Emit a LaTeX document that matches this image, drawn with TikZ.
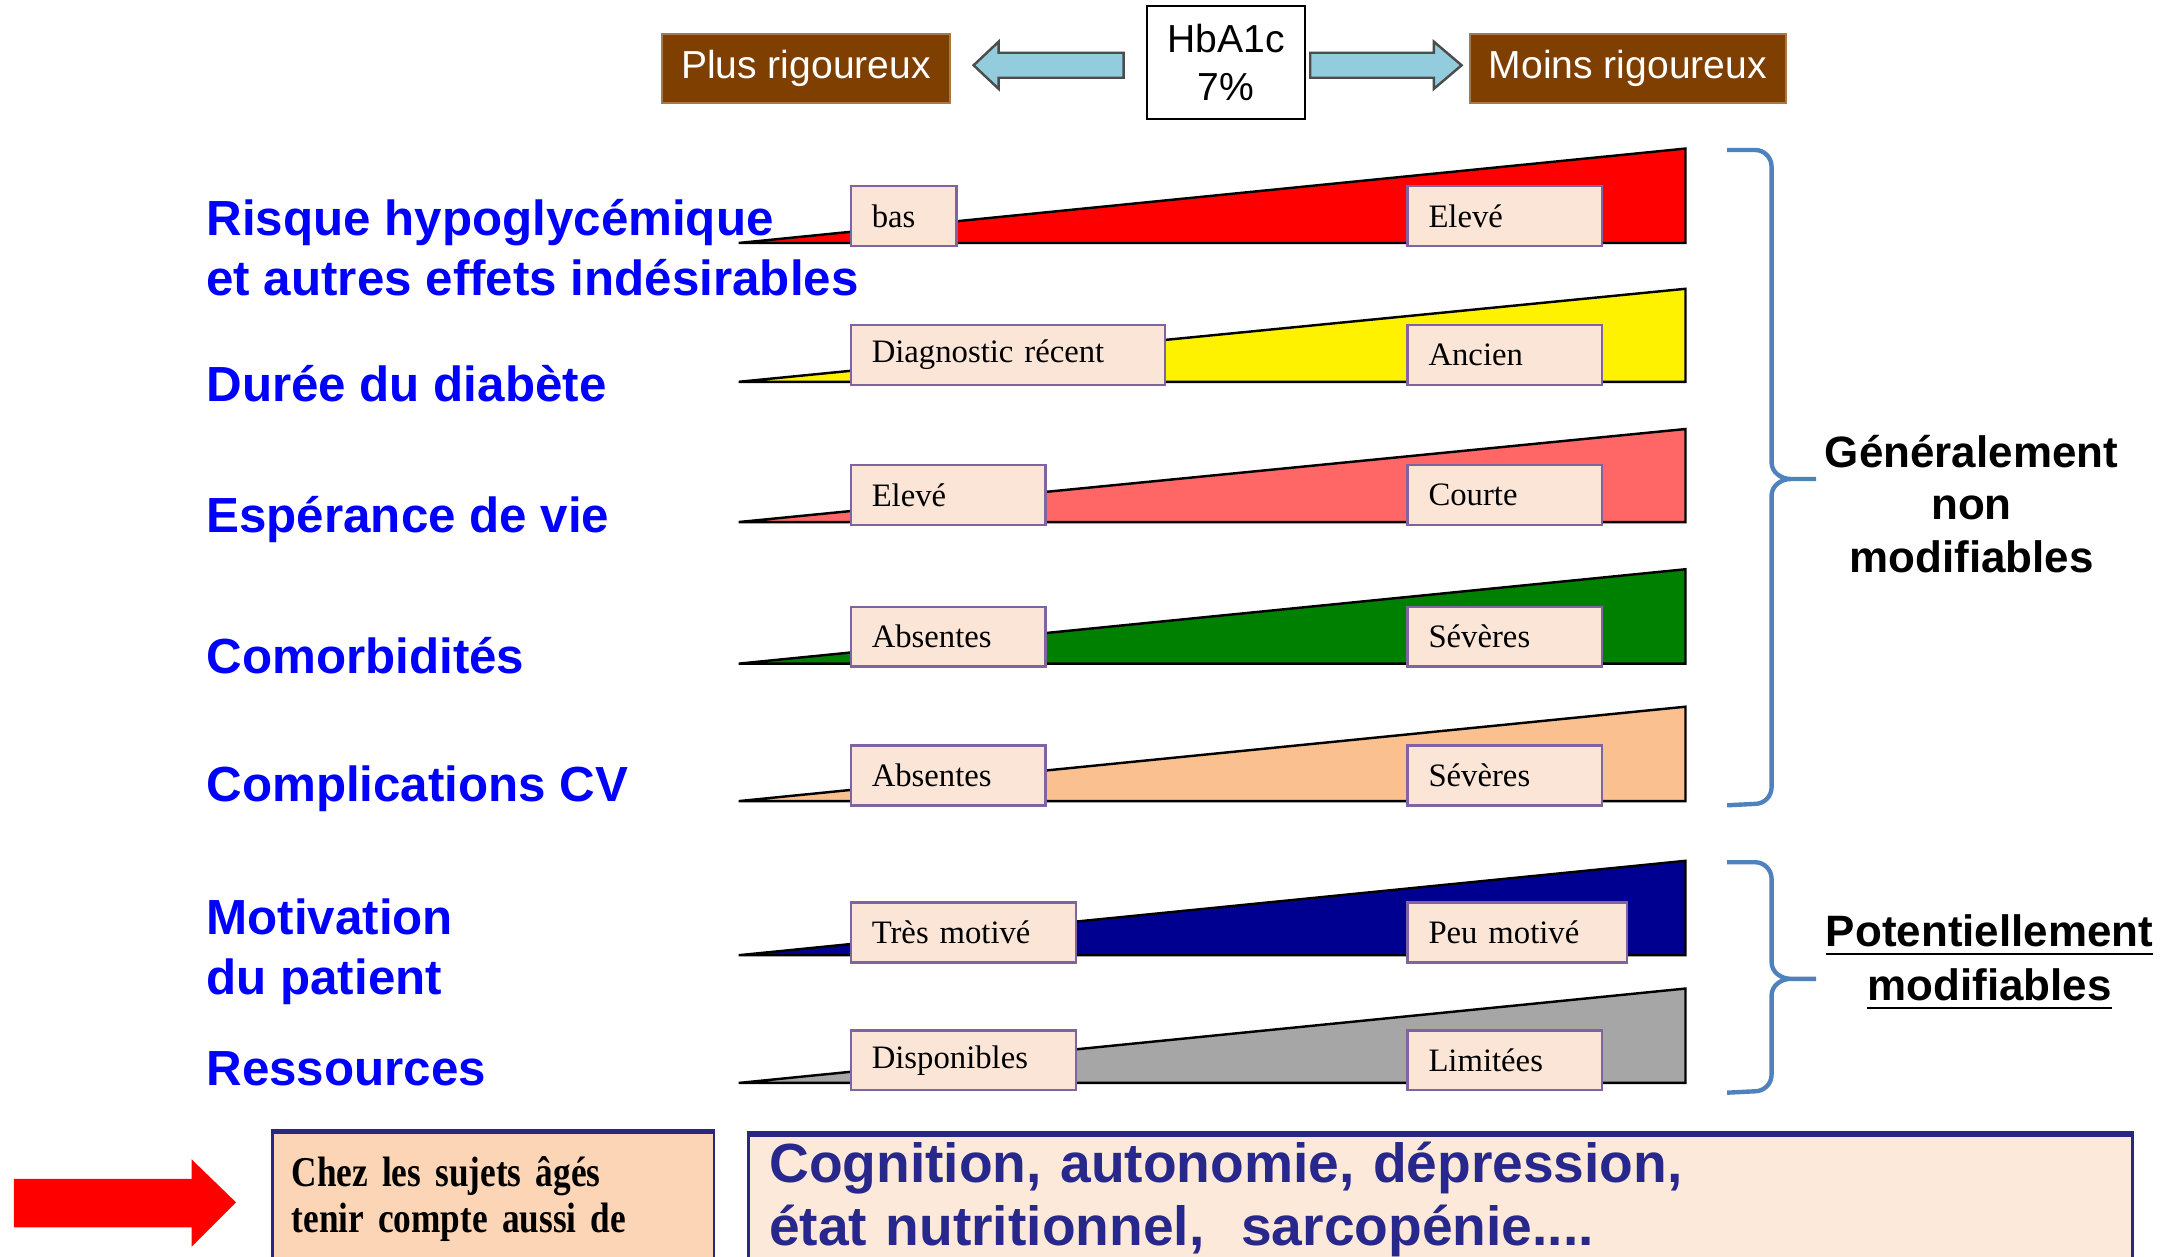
\documentclass[tikz,border=0pt]{standalone}
\usepackage{fontspec}
\setmainfont{Liberation Sans}
\newfontfamily\timesf{Liberation Serif}
\newfontfamily\timescond{Liberation Serif}[FakeStretch=0.83]
\usetikzlibrary{calc}
\definecolor{brun}{RGB}{127,63,0}
\definecolor{flecheblue}{RGB}{147,205,221}
\definecolor{tagfill}{RGB}{251,229,214}
\definecolor{tagline}{RGB}{128,100,162}
\definecolor{labblue}{RGB}{0,0,255}
\definecolor{braceblue}{RGB}{79,129,189}
\definecolor{rougeclair}{RGB}{255,102,102}
\definecolor{vert}{RGB}{0,128,0}
\definecolor{peche}{RGB}{250,192,144}
\definecolor{marine}{RGB}{0,0,144}
\definecolor{gris}{RGB}{166,166,166}
\definecolor{chezfill}{RGB}{251,213,181}
\definecolor{cogfill}{RGB}{252,233,218}
\definecolor{cogtext}{RGB}{40,40,140}
\definecolor{navyline}{RGB}{40,40,130}
\tikzset{
    topbox/.style={fill=brun, draw=brun!70, text=white, minimum height=0.45cm,
        font=\fontsize{8}{9.6}\selectfont},
    barrow/.style={fill=flecheblue, draw=black!70, line width=0.5pt},
    wedge/.style={draw=black, line width=0.5pt},
    tag/.style={draw=tagline, fill=tagfill, line width=0.5pt, anchor=south west,
        minimum height=0.43cm, inner xsep=0.15cm, inner ysep=0pt, text width=#1,
        align=left, font=\timesf\fontsize{6.7}{8}\selectfont},
    rowlab/.style={font=\bfseries\fontsize{10.1}{12.2}\selectfont, text=labblue,
        anchor=west, inner sep=0pt, align=left},
    brace/.style={draw=braceblue, line width=0.9pt},
}

\begin{document}
\begin{tikzpicture}[x=0.01cm,y=-0.01cm]
\useasboundingbox (0,0) rectangle (1568,905);
\clip (0,0) rectangle (1568,905);

% en-tete
\node[topbox, minimum width=2.07cm] (plus) at (580.5,49.5) {Plus rigoureux};
\node[draw=black, fill=white, minimum width=1.14cm, minimum height=0.82cm, align=center,
    font=\fontsize{8}{9.7}\selectfont] (hba) at (883,45) {HbA1c\\7\%};
\node[topbox, minimum width=2.27cm] (moins) at (1172.5,49.5) {Moins rigoureux};
\draw[barrow] (hba.west) ++(-16,-7) -- ++(-90,0) -- ++(0,-8) -- ++(-18,17) -- ++(18,17)
    -- ++(0,-8) -- ++(90,0) -- cycle;
\draw[barrow] (hba.east) ++(3,-7) -- ++(89,0) -- ++(0,-8) -- ++(20,17) -- ++(-20,17)
    -- ++(0,-8) -- ++(-89,0) -- cycle;

% triangles
\filldraw[wedge, fill=red] (532,175) -- (1214,107) -- (1214,175) -- cycle;
\filldraw[wedge, fill=yellow] (532,275) -- (1214,208) -- (1214,275) -- cycle;
\filldraw[wedge, fill=rougeclair] (532,376) -- (1214,309) -- (1214,376) -- cycle;
\filldraw[wedge, fill=vert] (532,478) -- (1214,410) -- (1214,478) -- cycle;
\filldraw[wedge, fill=peche] (532,577) -- (1214,509) -- (1214,577) -- cycle;
\filldraw[wedge, fill=marine] (532,688) -- (1214,620) -- (1214,688) -- cycle;
\filldraw[wedge, fill=gris] (532,780) -- (1214,712) -- (1214,780) -- cycle;

% etiquettes
\node[tag=0.46cm] (bas) at (612,178) {bas};
\node[tag=1.10cm] (eleve1) at (1013,178) {Elevé};
\node[tag=1.96cm] (diag) at (612,278) {Diagnostic récent};
\node[tag=1.10cm] (ancien) at (1013,278) {Ancien};
\node[tag=1.10cm] (eleve2) at (612,379) {Elevé};
\node[tag=1.10cm] (courte) at (1013,379) {Courte};
\node[tag=1.10cm] (abs1) at (612,481) {Absentes};
\node[tag=1.10cm] (sev1) at (1013,481) {Sévères};
\node[tag=1.10cm] (abs2) at (612,581) {Absentes};
\node[tag=1.10cm] (sev2) at (1013,581) {Sévères};
\node[tag=1.32cm] (tres) at (612,694) {Très motivé};
\node[tag=1.28cm] (peu) at (1013,694) {Peu motivé};
\node[tag=1.32cm] (dispo) at (612,786) {Disponibles};
\node[tag=1.10cm] (limit) at (1013,786) {Limitées};

% criteres
\node[rowlab] (risque) at (148,178.5) {Risque hypoglycémique\\et autres effets indésirables};
\node[rowlab] (duree) at (148,276) {Durée du diabète};
\node[rowlab] (esper) at (148,374) {Espérance de vie};
\node[rowlab] (comorb) at (148,472) {Comorbidités};
\node[rowlab] (compl) at (148,568) {Complications CV};
\node[rowlab] (motiv) at (148,685.5) {Motivation\\du patient};
\node[rowlab] (ressour) at (148,770) {Ressources};

% accolades
\draw[brace] (1244,108) -- (1264,108) to[out=0,in=90] (1276,120) -- (1276,333)
    to[out=-90,in=180] (1290,345) -- (1308,345) -- (1290,345) to[out=180,in=90] (1276,357)
    -- (1276,567) to[out=-90,in=0] (1264,579) -- (1244,580);
\draw[brace] (1244,621) -- (1264,621) to[out=0,in=90] (1276,633) -- (1276,693)
    to[out=-90,in=180] (1290,705) -- (1308,705) -- (1290,705) to[out=180,in=90] (1276,717)
    -- (1276,774) to[out=-90,in=0] (1264,786) -- (1244,787);
\node[font=\bfseries\fontsize{9}{10.8}\selectfont, align=center] (gen) at (1420,363)
    {Généralement\\non\\modifiables};
\node[font=\bfseries\fontsize{9}{11.1}\selectfont, align=center] (pot) at (1433,693.5)
    {\underline{Potentiellement}\\\underline{modifiables}};

% sujets ages
\node[anchor=north west, draw=navyline, fill=chezfill, line width=0.6pt, minimum height=0.95cm,
    text width=2.9cm, inner xsep=0.14cm, inner ysep=0pt, align=left,
    font=\timescond\bfseries\fontsize{8.7}{9.4}\selectfont] (chez) at (195,815)
    {Chez les sujets âgés\\tenir compte aussi de};
\draw[navyline, line width=1.2pt] (chez.north west) -- (chez.north east);
\node[anchor=north west, draw=navyline, fill=cogfill, line width=0.6pt, minimum height=0.92cm,
    text width=9.66cm, inner xsep=0.15cm, inner ysep=0pt, align=left, text=cogtext,
    font=\bfseries\fontsize{11.3}{13}\selectfont] (cog) at (538,817)
    {Cognition, autonomie, dépression,\\état nutritionnel,\ \ sarcopénie....};
\draw[navyline, line width=1.2pt] (cog.north west) -- (cog.north east);
\fill[red] (chez.north west) ++(-25,51) -- ++(-32,-31) -- ++(0,14) -- ++(-128,0) -- ++(0,35)
    -- ++(128,0) -- ++(0,14) -- cycle;
\end{tikzpicture}
\end{document}
